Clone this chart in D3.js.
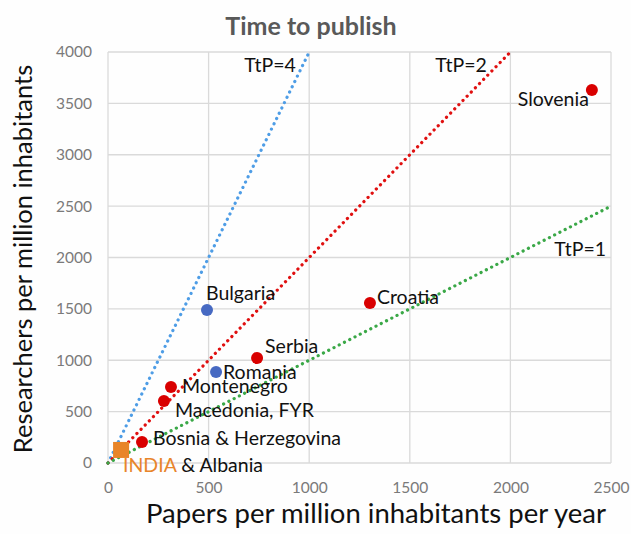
<!DOCTYPE html>
<html><head><meta charset="utf-8">
<script src="https://cdn.jsdelivr.net/npm/d3@7/dist/d3.min.js"></script>
<style>body{margin:0;background:#fff;}svg{font-family:Lato,"Open Sans",sans-serif;}</style>
</head><body>
<script>
const countries = ["Slovenia","Croatia","Bulgaria","Serbia","Romania","Montenegro","Macedonia, FYR","Bosnia & Herzegovina"];
const papers = [2405,1302,492,741,537,313,278,169];
const researchers = [3630,1557,1490,1022,885,740,603,205];
const groups = ["red","red","blue","red","blue","red","red","red"];
const indiaPoint = [65,127];
const ttpValues = [4,2,1];
const ttpLabels = ["TtP=4","TtP=2","TtP=1"];
const xTicks = [0,500,1000,1500,2000,2500];
const yTicks = [0,500,1000,1500,2000,2500,3000,3500,4000];

const W=631,H=534;
const svg=d3.select("body").append("svg").attr("width",W).attr("height",H);
svg.append("rect").attr("width",W).attr("height",H).attr("fill","#fefefe");
const x=d3.scaleLinear().domain([0,2500]).range([108,611]);
const y=d3.scaleLinear().domain([0,4000]).range([463,52]);

// grid
svg.append("g").selectAll("line").data(yTicks).join("line")
 .attr("x1",x(0)).attr("x2",x(2500)).attr("y1",d=>y(d)).attr("y2",d=>y(d))
 .attr("stroke","#dadada").attr("stroke-width",1.3);
svg.append("g").selectAll("line").data(xTicks).join("line")
 .attr("y1",y(0)).attr("y2",y(4000)).attr("x1",d=>x(d)).attr("x2",d=>x(d))
 .attr("stroke","#dadada").attr("stroke-width",1.3);

// axes labels via d3 axes
const fmt=d3.format("d");
const xa=svg.append("g").attr("transform",`translate(0,${y(0)})`)
 .call(d3.axisBottom(x).tickValues(xTicks).tickFormat(fmt).tickSize(0).tickPadding(19));
const ya=svg.append("g").attr("transform",`translate(${x(0)},0)`)
 .call(d3.axisLeft(y).tickValues(yTicks).tickFormat(fmt).tickSize(0).tickPadding(16));
[xa,ya].forEach(a=>{a.select(".domain").remove();a.selectAll("text").attr("fill","#7a7a7a").attr("font-size",15.5).attr("font-family","Lato");});

// TtP lines
const lineColors={4:"#4e9de6",2:"#e01010",1:"#3aa847"};
ttpValues.forEach((t,i)=>{
  const xe=Math.min(2500,4000/t);
  svg.append("line").attr("x1",x(0)).attr("y1",y(0)).attr("x2",x(xe)).attr("y2",y(xe*t))
   .attr("stroke",lineColors[t]).attr("stroke-width",3.2)
   .attr("stroke-dasharray","0.1 5.8").attr("stroke-linecap","round");
});
const ttpPos=[[270,72,"middle"],[461,72,"middle"],[606,256,"end"]];
ttpLabels.forEach((l,i)=>{
  svg.append("text").attr("x",ttpPos[i][0]).attr("y",ttpPos[i][1]).attr("text-anchor",ttpPos[i][2])
   .attr("font-size",19.5).attr("fill","#111").text(l);
});

// points
const col={red:"#d90000",blue:"#4669c2"};
svg.append("g").selectAll("circle").data(countries).join("circle")
 .attr("cx",(d,i)=>x(papers[i])).attr("cy",(d,i)=>y(researchers[i])).attr("r",6)
 .attr("fill",(d,i)=>col[groups[i]]);
svg.append("rect").attr("x",x(indiaPoint[0])-8).attr("y",y(indiaPoint[1])-8).attr("width",16).attr("height",16).attr("fill","#e8852a");

// country labels
const lab={"Slovenia":[-3,16,"end"],"Croatia":[7,1,"start"],"Bulgaria":[-1,-10,"start"],"Serbia":[8,-5,"start"],
 "Romania":[7,7,"start"],"Montenegro":[11,6,"start"],"Macedonia, FYR":[11,16,"start"],"Bosnia & Herzegovina":[11,3,"start"]};
countries.forEach((c,i)=>{
  const o=lab[c];
  svg.append("text").attr("x",x(papers[i])+o[0]).attr("y",y(researchers[i])+o[1]).attr("text-anchor",o[2])
   .attr("font-size",19.5).attr("fill","#111").text(c);
});
const it=svg.append("text").attr("x",123).attr("y",472).attr("font-size",19.5);
it.append("tspan").attr("fill","#e8852a").text("INDIA");
it.append("tspan").attr("fill","#111").text(" & Albania");

// titles
svg.append("text").attr("x",311).attr("y",35).attr("text-anchor","middle").attr("font-size",25).attr("font-weight","bold").attr("fill","#595959").text("Time to publish");
svg.append("text").attr("x",376).attr("y",523).attr("text-anchor","middle").attr("font-size",27.5).attr("fill","#111").text("Papers per million inhabitants per year");
svg.append("text").attr("transform","translate(32,259) rotate(-90)").attr("text-anchor","middle").attr("font-size",25.5).attr("fill","#111").text("Researchers per million inhabitants");
</script>
</body></html>
